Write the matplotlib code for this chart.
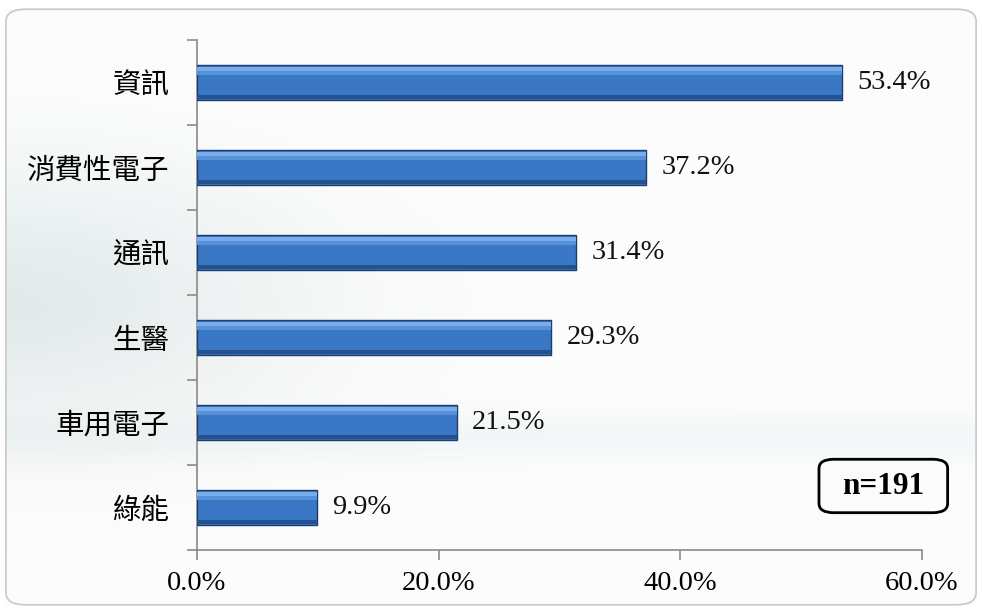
import numpy as np
import matplotlib.pyplot as plt
from matplotlib.patches import FancyBboxPatch

# data
categories = ['資訊', '消費性電子', '通訊', '生醫', '車用電子', '綠能']
values = [53.4, 37.2, 31.4, 29.3, 21.5, 9.9]
xticks = [0, 20, 40, 60]
n_label = 'n=191'

plt.rcParams['font.family'] = ['Liberation Serif', 'Noto Sans CJK TC']

fig = plt.figure(figsize=(9.82, 6.14), dpi=100)
fig.patch.set_facecolor('white')

# light background panel with rounded border
bg = fig.add_axes([0, 0, 1, 1], zorder=-2)
bg.set_xlim(0, 1)
bg.set_ylim(0, 1)
bg.axis('off')
gy, gx = np.mgrid[0:1:200j, 0:1:300j]
shade = 0.99 - 0.07 * np.exp(-((gy - 0.5) / 0.22) ** 2) * np.exp(-(gx / 0.3) ** 2)
band = 0.035 * np.exp(-((gy - 0.72) / 0.04) ** 2)
img = np.dstack([shade - band - 0.03 * np.exp(-((gy - 0.45) / 0.2) ** 2) * np.exp(-(gx / 0.25) ** 2),
                 shade - band * 0.6, shade - band * 0.5])
bg.imshow(np.clip(img, 0, 1), extent=[0.006, 0.994, 0.015, 0.985], origin='upper',
          aspect='auto', zorder=0)
frame = FancyBboxPatch((0.006, 0.015), 0.988, 0.97, boxstyle='round,pad=0,rounding_size=0.02',
                       facecolor='none', edgecolor='#c8c8c8', linewidth=1.2, zorder=1)
bg.add_patch(frame)

# n= box
nbox = FancyBboxPatch((0.834, 0.165), 0.131, 0.087, boxstyle='round,pad=0,rounding_size=0.015',
                      facecolor='none', edgecolor='black', linewidth=2, zorder=2)
bg.add_patch(nbox)
bg.text(0.8995, 0.208, n_label, ha='center', va='center', fontsize=22.5, fontweight='bold',
        zorder=3)

ax = fig.add_axes([0.2006, 0.1042, 0.7383, 0.8307])
ax.patch.set_alpha(0)

y = np.arange(len(categories))
h = 0.42
ax.barh(y, values, height=h, color='#3a77c5', edgecolor='#1c3d6e', linewidth=1.0, zorder=3)
# bevel highlight on top, shadow on bottom
ax.barh(y - h * 0.38, values, height=h * 0.12, color='#78ade9', linewidth=0, zorder=4)
ax.barh(y - h * 0.26, values, height=h * 0.12, color='#5791d8', linewidth=0, zorder=4)
ax.barh(y + h * 0.40, values, height=h * 0.1, color='#24528f', linewidth=0, zorder=4)

for yi, v in zip(y, values):
    ax.annotate(f'{v:.1f}%', (v, yi), xytext=(11, 0), textcoords='offset points',
                va='center', ha='left', fontsize=20.5, color='#111111')

ax.set_xlim(0, 60)
ax.set_ylim(len(categories) - 0.5, -0.5)
ax.set_xticks(xticks)
ax.set_xticklabels([f'{t:.1f}%' for t in xticks], fontsize=20.5)
ax.set_yticks(y)
ax.set_yticklabels(categories, fontsize=20.5, family=['Noto Sans CJK TC'])
ax.set_yticks(np.arange(len(categories) + 1) - 0.5, minor=True)
ax.tick_params(axis='y', which='major', length=0, pad=20)
ax.tick_params(axis='y', which='minor', length=7, color='#8a8a8a', width=1.2)
ax.tick_params(axis='x', length=7, color='#8a8a8a', width=1.2, pad=8)

for side in ['top', 'right']:
    ax.spines[side].set_visible(False)
for side in ['left', 'bottom']:
    ax.spines[side].set_color('#8a8a8a')
    ax.spines[side].set_linewidth(1.2)

fig.savefig('out.png', dpi=100)
